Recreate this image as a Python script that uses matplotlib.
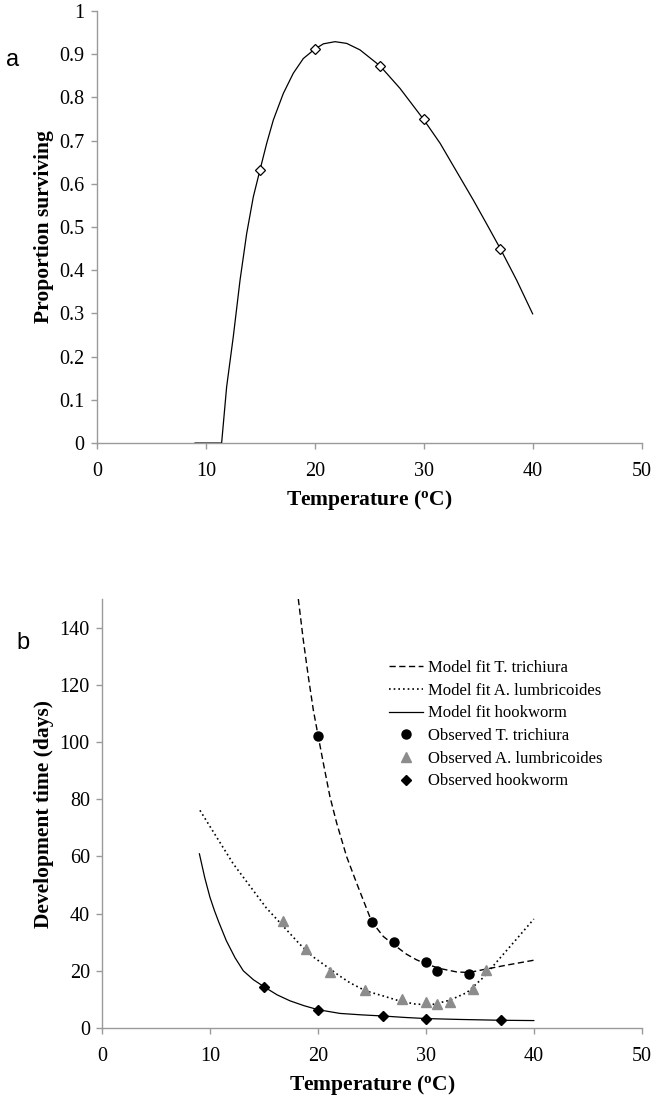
import matplotlib
matplotlib.use("Agg")
import matplotlib.pyplot as plt
from matplotlib.lines import Line2D

plt.rcParams['font.family'] = ['Liberation Serif', 'DejaVu Serif']
plt.rcParams['mathtext.fontset'] = 'custom'
plt.rcParams['mathtext.rm'] = 'Liberation Serif'
plt.rcParams['mathtext.bf'] = 'Liberation Serif:bold'

# ---------------- Panel a data ----------------
surv_obs_T = [15, 20, 26, 30, 37]
surv_obs_P = [0.632, 0.911, 0.873, 0.750, 0.448]
surv_fit_T = [9.0, 11.44, 11.9, 12.51, 13.13, 13.74, 14.35, 14.96, 15.58, 16.19, 17.1,
              18.02, 18.94, 19.95, 20.78, 21.85, 22.92, 24.14, 25.98, 27.81, 29.95,
              31.49, 33.02, 34.54, 35.77, 37.06, 38.52, 39.99]
surv_fit_P = [0.0, 0.0, 0.130, 0.246, 0.377, 0.485, 0.570, 0.632, 0.694, 0.748, 0.809,
              0.856, 0.890, 0.911, 0.924, 0.929, 0.925, 0.910, 0.873, 0.821, 0.750,
              0.694, 0.628, 0.5625, 0.507, 0.448, 0.377, 0.299]

# ---------------- Panel b data ----------------
tt_obs_T = [20, 25, 27, 30, 31, 34]
tt_obs_D = [102.0, 37.0, 30.0, 23.0, 20.0, 19.0]
al_obs_T = [16.72, 18.88, 21.1, 24.38, 27.8, 30.0, 31.05, 32.2, 34.4, 35.6]
al_obs_D = [37.5, 27.6, 19.6, 13.2, 10.0, 9.2, 8.5, 9.0, 13.6, 20.3]
hw_obs_T = [15, 20, 26, 30, 37]
hw_obs_D = [14.4, 6.4, 4.2, 3.3, 2.7]

tt_fit_T = [18.17, 18.63, 19.1, 19.56, 20.02, 20.49, 21.1, 21.73, 22.65, 23.58, 24.97,
            26.05, 27.0, 28.2, 29.1, 30.0, 31.3, 32.85, 34.0, 35.3, 37.5, 40.0]
tt_fit_D = [150.0, 135.7, 122.8, 111.2, 101.9, 92.6, 80.9, 71.6, 59.9, 50.6, 37.2,
            32.0, 29.2, 25.8, 23.9, 22.4, 20.8, 19.6, 19.4, 20.4, 22.0, 23.7]
al_fit_T = [9.05, 12.14, 15.2, 16.72, 18.3, 19.5, 22.0, 22.96, 24.4, 26.04, 27.6, 29.1,
            30.7, 32.2, 33.8, 35.3, 36.9, 38.4, 40.0]
al_fit_D = [76.1, 57.4, 42.0, 35.8, 29.3, 25.0, 18.2, 15.8, 13.0, 11.2, 9.4, 8.3,
            8.3, 9.7, 12.4, 17.6, 24.6, 31.1, 38.1]
hw_fit_T = [9.0, 9.5, 9.98, 10.4, 10.8, 11.5, 12.3, 13.07, 14.0, 15.0, 16.2, 17.4, 18.7,
            20.0, 22.03, 24.0, 26.0, 28.0, 30.0, 33.0, 37.0, 40.0]
hw_fit_D = [60.9, 52.5, 45.7, 41.0, 37.0, 30.5, 24.6, 20.0, 16.9, 14.4, 11.6, 9.5, 7.8,
            6.4, 5.1, 4.6, 4.2, 3.7, 3.3, 3.0, 2.7, 2.6]

legend_labels = ['Model fit T. trichiura', 'Model fit A. lumbricoides', 'Model fit hookworm',
                 'Observed T. trichiura', 'Observed A. lumbricoides', 'Observed hookworm']

x_ticks = [0, 10, 20, 30, 40, 50]

GRAY = '#9a9a9a'
DASH = (0, (4.5, 2.5))
DOT = (0, (1.0, 1.8))
fig = plt.figure(figsize=(6.71, 11.07), dpi=100)

def style_axes(ax):
    for s in ['top', 'right']:
        ax.spines[s].set_visible(False)
    for s in ['left', 'bottom']:
        ax.spines[s].set_color(GRAY)
        ax.spines[s].set_linewidth(1.0)
    ax.tick_params(direction='out', length=4, width=1.0, color=GRAY,
                   labelsize=14.5)
    ax.tick_params(axis='y', pad=5)
    ax.tick_params(axis='x', pad=10)

# Panel a
ax1 = fig.add_axes([97/671, 1-443/1107, (641.7-97)/671, (443-11)/1107])
ax1.plot(surv_fit_T, surv_fit_P, color='black', lw=0.9)
ax1.plot(surv_obs_T, surv_obs_P, linestyle='none', marker='D', markersize=5,
         markerfacecolor='white', markeredgecolor='black', markeredgewidth=0.9)
ax1.set_xlim(0, 50)
ax1.set_ylim(0, 1)
ax1.set_xticks(x_ticks)
ax1.set_yticks([i/10 for i in range(11)])
ax1.set_yticklabels(['0', '0.1', '0.2', '0.3', '0.4', '0.5', '0.6', '0.7', '0.8', '0.9', '1'])
style_axes(ax1)
ax1.set_xlabel(r'Temperature ($\mathbf{^o}$C)', fontsize=15.5, fontweight='bold', labelpad=5)
ax1.set_ylabel('Proportion surviving', fontsize=15.5, fontweight='bold', labelpad=4)
fig.text(13/671, 1-60/1107, 'a', fontsize=17, family='Liberation Sans', ha='center', va='center')

# Panel b
ax2 = fig.add_axes([102.3/671, 1-1028/1107, (641.7-102.3)/671, (1028-599)/1107])
ax2.plot(tt_fit_T, tt_fit_D, color='black', lw=1.0, linestyle=DASH)
ax2.plot(al_fit_T, al_fit_D, color='black', lw=1.2, linestyle=DOT)
ax2.plot(hw_fit_T, hw_fit_D, color='black', lw=0.9, linestyle='-')
ax2.plot(tt_obs_T, tt_obs_D, linestyle='none', marker='o', markersize=6.5,
         color='black')
ax2.plot(al_obs_T, al_obs_D, linestyle='none', marker='^', markersize=6.5,
         color='#8c8c8c')
ax2.plot(hw_obs_T, hw_obs_D, linestyle='none', marker='D', markersize=5,
         color='black')
ax2.set_xlim(0, 50)
ax2.set_ylim(0, 150)
ax2.set_xticks(x_ticks)
ax2.set_yticks([0, 20, 40, 60, 80, 100, 120, 140])
style_axes(ax2)
ax2.set_xlabel(r'Temperature ($\mathbf{^o}$C)', fontsize=15.5, fontweight='bold', labelpad=5)
ax2.set_ylabel('Development time (days)', fontsize=15.5, fontweight='bold', labelpad=4)
fig.text(23/671, 1-643/1107, 'b', fontsize=17, family='Liberation Sans', ha='center', va='center')

handles = [
    Line2D([], [], color='black', lw=1.0, linestyle=DASH),
    Line2D([], [], color='black', lw=1.2, linestyle=DOT),
    Line2D([], [], color='black', lw=0.9, linestyle='-'),
    Line2D([], [], linestyle='none', marker='o', markersize=6.5, color='black'),
    Line2D([], [], linestyle='none', marker='^', markersize=6.5, color='#8c8c8c'),
    Line2D([], [], linestyle='none', marker='D', markersize=5, color='black'),
]
fig.legend(handles, legend_labels, loc='upper left',
           bbox_to_anchor=(389/671, 1-660/1107), frameon=False,
           fontsize=12, handlelength=2.05, handletextpad=0.3, labelspacing=0.4,
           borderpad=0, borderaxespad=0)

fig.savefig('out.png', dpi=100)
